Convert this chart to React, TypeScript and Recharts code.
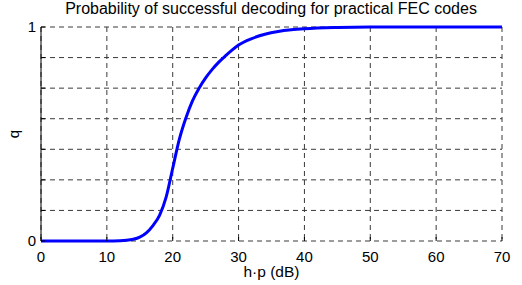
import React from 'react';
import { LineChart, Line, XAxis, YAxis, CartesianGrid, Label } from 'recharts';

const xValues = [0, 5, 10, 12, 13, 14, 15, 16, 17, 18, 19, 20, 21, 22, 23, 24, 25, 26, 27, 28, 29, 30, 32, 34, 36, 38, 40, 45, 50, 60, 70];
const qValues = [0, 0, 0, 0.001, 0.003, 0.008, 0.018, 0.038, 0.072, 0.12, 0.205, 0.34, 0.475, 0.575, 0.655, 0.714, 0.762, 0.802, 0.836, 0.865, 0.892, 0.916, 0.946, 0.966, 0.979, 0.987, 0.992, 0.998, 1, 1, 1];
const xTicks = [0, 10, 20, 30, 40, 50, 60, 70];
const yTicks = [0, 1 / 7, 2 / 7, 3 / 7, 4 / 7, 5 / 7, 6 / 7, 1];
const yTickLabels: Record<number, string> = { 0: '0', 1: '1' };

const title = 'Probability of successful decoding for practical FEC codes';
const xLabel = 'h\u00B7p (dB)';
const yLabel = 'q';

const data = xValues.map((x, i) => ({ x, q: qValues[i] }));

const FONT = '"Liberation Sans", Arial, Helvetica, sans-serif';

export default function App() {
  return (
    <div style={{ position: 'absolute', left: 0, top: 0, width: 522, height: 285, background: '#fff' }}>
      <div
        style={{
          position: 'absolute',
          left: 0,
          width: 542,
          top: 0,
          textAlign: 'center',
          fontFamily: FONT,
          fontSize: 16,
          lineHeight: '18px',
          color: '#000',
          whiteSpace: 'nowrap',
        }}
      >
        {title}
      </div>
      <LineChart width={522} height={285} data={data} margin={{ top: 27, right: 20, left: 0, bottom: 0 }}>
        <CartesianGrid stroke="#3a3a3a" strokeDasharray="5 4" />
        <XAxis
          dataKey="x"
          type="number"
          domain={[0, 70]}
          ticks={xTicks}
          height={44}
          axisLine={false}
          tickSize={-4}
          tickMargin={14}
          tickLine={{ stroke: '#000' }}
          tick={{ fill: '#000', fontSize: 15, fontFamily: FONT }}
          interval={0}
        >
          <Label
            content={(props: any) => {
              const vb = props.viewBox || {};
              return (
                <text x={vb.x + vb.width / 2} y={277} textAnchor="middle" fontSize={15.5} fontFamily={FONT} fill="#000">
                  {xLabel}
                </text>
              );
            }}
          />
        </XAxis>
        <YAxis
          type="number"
          domain={[0, 1]}
          ticks={yTicks}
          width={41}
          interval={0}
          axisLine={{ stroke: '#000', strokeWidth: 1 }}
          tickLine={{ stroke: '#000' }}
          tickSize={-4}
          tickMargin={9}
          tickFormatter={(v: number) => yTickLabels[v] ?? ''}
          tick={{ fill: '#000', fontSize: 15, fontFamily: FONT }}
        >
          <Label
            content={(props: any) => {
              const vb = props.viewBox || {};
              const cy = vb.y + vb.height / 2;
              return (
                <text
                  x={19}
                  y={cy}
                  textAnchor="middle"
                  fontSize={15}
                  fontFamily={FONT}
                  fill="#000"
                  transform={`rotate(-90 19 ${cy})`}
                >
                  {yLabel}
                </text>
              );
            }}
          />
        </YAxis>
        <Line
          type="monotone"
          dataKey="q"
          stroke="#0000ff"
          strokeWidth={3}
          dot={false}
          isAnimationActive={false}
        />
      </LineChart>
    </div>
  );
}
